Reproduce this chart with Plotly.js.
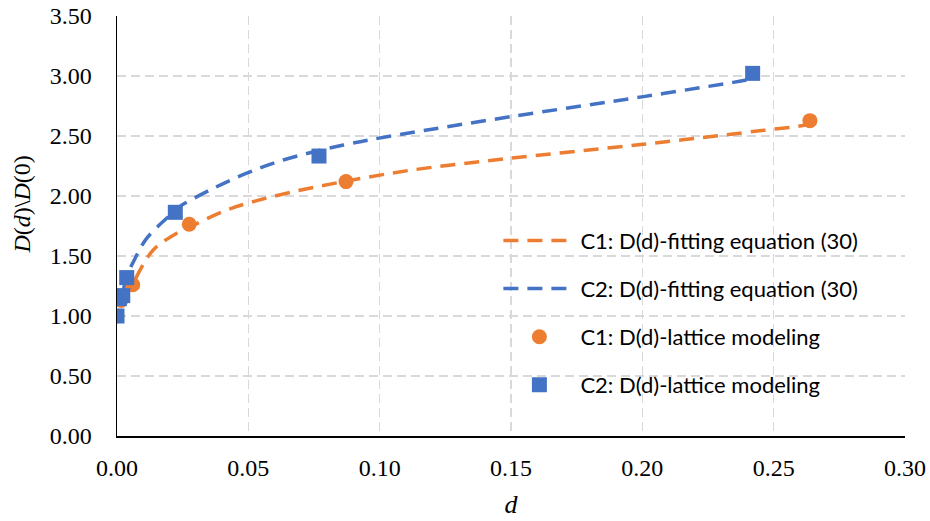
<!DOCTYPE html>
<html>
<head>
<meta charset="utf-8">
<script src="https://cdn.plot.ly/plotly-3.0.1.min.js"></script>
<style>html,body{margin:0;padding:0;background:#fff;}#chart{width:930px;height:521px;}</style>
</head>
<body>
<div id="chart"></div>
<script>
// Lattice modeling points
const c1PointsD = [0, 0.0015, 0.006, 0.0275, 0.0872, 0.2638];
const c1PointsV = [1.00, 1.13, 1.26, 1.764, 2.12, 2.628];
const c2PointsD = [0, 0.0009, 0.0022, 0.0037, 0.0222, 0.0769, 0.242];
const c2PointsV = [1.00, 1.145, 1.17, 1.32, 1.864, 2.333, 3.022];

// Fitting curves
const c1FitD = [0.002, 0.006, 0.0075, 0.0138, 0.0227, 0.0275, 0.0418, 0.0519, 0.0659, 0.0862, 0.1115, 0.1496, 0.2004, 0.2473, 0.26, 0.2638];
const c1FitV = [1.15, 1.26, 1.33, 1.55, 1.69, 1.74, 1.883, 1.953, 2.03, 2.12, 2.214, 2.314, 2.431, 2.55, 2.583, 2.60];
const c2FitD = [0.0025, 0.0037, 0.0062, 0.0113, 0.0222, 0.0234, 0.0354, 0.0494, 0.0633, 0.0862, 0.1077, 0.1496, 0.2004, 0.2346, 0.242];
const c2FitV = [1.22, 1.33, 1.45, 1.647, 1.88, 1.906, 2.05, 2.19, 2.30, 2.425, 2.512, 2.66, 2.828, 2.947, 2.975];

const xTicks = [0, 0.05, 0.10, 0.15, 0.20, 0.25, 0.30];
const yTicks = [0, 0.5, 1.0, 1.5, 2.0, 2.5, 3.0, 3.5];

const seriesNames = ['C1: D(d)-fitting equation (30)', 'C2: D(d)-fitting equation (30)',
                     'C1: D(d)-lattice modeling', 'C2: D(d)-lattice modeling'];

const orange = '#ED7D31';
const blue = '#4472C4';
const serif = 'Liberation Serif, Times New Roman, serif';

const traces = [
  {x: c1FitD, y: c1FitV, mode: 'lines', name: seriesNames[0], legendgroup: 'a',
   line: {color: orange, width: 3.5, dash: '15px,9px', shape: 'spline'}},
  {x: c2FitD, y: c2FitV, mode: 'lines', name: seriesNames[1], legendgroup: 'b',
   line: {color: blue, width: 3.5, dash: '15px,9px', shape: 'spline'}},
  {x: c1PointsD, y: c1PointsV, mode: 'markers', name: seriesNames[2], legendgroup: 'c',
   marker: {color: orange, size: 15, symbol: 'circle'}},
  {x: c2PointsD, y: c2PointsV, mode: 'markers', name: seriesNames[3], legendgroup: 'd',
   marker: {color: blue, size: 15, symbol: 'square'}}
];

const gridStyle = {gridcolor: '#D9D9D9', gridwidth: 1.5, griddash: '9px,5px'};
const tickFont = {family: serif, size: 24, color: '#000'};

const layout = {
  width: 930, height: 521,
  margin: {l: 117, r: 25, t: 16, b: 85},
  paper_bgcolor: '#fff', plot_bgcolor: '#fff',
  showlegend: true,
  legend: {x: 0.484, y: 0.515, xanchor: 'left', yanchor: 'top', bgcolor: 'rgba(0,0,0,0)',
    font: {family: 'Lato, Liberation Sans, sans-serif', size: 22, color: '#000'},
    tracegroupgap: 16.5, itemwidth: 72},
  shapes: [{type: 'rect', xref: 'paper', yref: 'paper', x0: 0.42, x1: 0.981, y0: 0.069, y1: 0.5286,
    fillcolor: '#fff', line: {width: 0}, layer: 'between'}],
  annotations: [{text: '<i>D</i>(<i>d</i>)\\<i>D</i>(0)', xref: 'paper', yref: 'paper', x: -0.12, y: 0.552,
    xanchor: 'center', yanchor: 'middle', textangle: -90, showarrow: false,
    font: {family: serif, size: 24, color: '#000'}}],
  xaxis: Object.assign({
    range: [0, 0.30], tickvals: xTicks, ticktext: xTicks.map(v => v.toFixed(2)),
    showline: true, linecolor: '#000', linewidth: 1.5, zeroline: false,
    ticks: '', tickfont: tickFont, ticklabelstandoff: 10,
    title: {text: '<i>d</i>', font: {family: serif, size: 26, color: '#000'}, standoff: 14}
  }, gridStyle),
  yaxis: Object.assign({
    range: [0, 3.5], tickvals: yTicks, ticktext: yTicks.map(v => v.toFixed(2)),
    showline: true, linecolor: '#000', linewidth: 1.5, zeroline: false,
    ticks: '', tickfont: tickFont, ticklabelstandoff: 19
  }, gridStyle)
};

Plotly.newPlot('chart', traces, layout, {displayModeBar: false, staticPlot: true});
</script>
</body>
</html>
